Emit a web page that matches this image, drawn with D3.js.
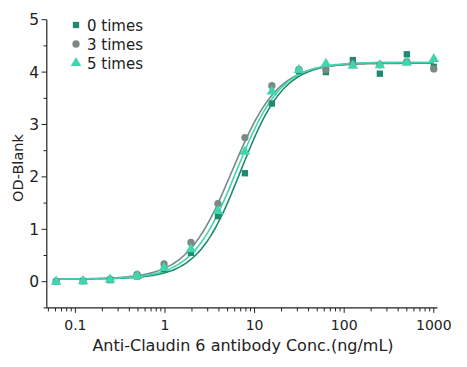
<!DOCTYPE html>
<html><head><meta charset="utf-8">
<script src="https://cdn.jsdelivr.net/npm/d3@7"></script>
<style>body{margin:0;background:#fff}svg text{font-family:"DejaVu Sans",sans-serif;fill:#222}</style>
</head><body><svg id="c" width="467" height="367"></svg>
<script>
const conc = [0.061,0.122,0.244,0.488,0.977,1.95,3.9,7.8,15.6,31.25,62.5,125,250,500,1000];
const seriesNames = ["0 times","3 times","5 times"];
const times0 = [0.0,0.01,0.03,0.1,0.24,0.55,1.25,2.07,3.40,4.02,4.00,4.23,3.97,4.34,4.10];
const times3 = [0.01,0.02,0.05,0.14,0.34,0.75,1.49,2.75,3.74,4.05,4.05,4.15,4.14,4.20,4.06];
const times5 = [0.0,0.01,0.04,0.11,0.26,0.62,1.35,2.48,3.63,4.04,4.16,4.12,4.13,4.18,4.25];
// 4PL fit parameters per series: bottom, top, EC50, hill
const fitBottom = [0.05,0.05,0.05];
const fitTop = [4.18,4.17,4.19];
const fitEC50 = [7.0,5.6,6.3];
const fitHill = [1.8,1.7,1.75];
const colors = ["#1f8a70","#7b8985","#3fd6ae"];
const yTicks = [0,1,2,3,4,5];
const xTickLabels = [0.1,1,10,100,1000];

const svg = d3.select("#c");
const x = d3.scaleLog().domain([0.048,1100]).range([46.8,437.5]);
const y = d3.scaleLinear().domain([-0.5,5]).range([307.9,19.7]);
const data = [times0,times3,times5];

// axes
const xAxis = svg.append("g").attr("transform","translate(0,307.9)");
xAxis.append("line").attr("x1",x.range()[0]).attr("x2",x.range()[1]).attr("stroke","#222").attr("stroke-width",1.2);
const minor = [];
for (let e=-2;e<=3;e++) for (let m=1;m<10;m++){const v=m*Math.pow(10,e); if(v>=x.domain()[0]&&v<=x.domain()[1]) minor.push(v);}
xAxis.selectAll(".xt").data(minor).join("line").attr("x1",d=>x(d)).attr("x2",d=>x(d)).attr("y1",0)
  .attr("y2",d=>xTickLabels.includes(d)?5:3.5).attr("stroke","#222").attr("stroke-width",1);
xAxis.selectAll(".xl").data(xTickLabels).join("text").attr("x",d=>x(d)).attr("y",22).attr("text-anchor","middle")
  .attr("font-size",14).text(d=>d);

const yAxis = svg.append("g");
yAxis.append("line").attr("x1",46.8).attr("x2",46.8).attr("y1",y(-0.5)).attr("y2",y(5)).attr("stroke","#222").attr("stroke-width",1.2);
const yMinor = d3.range(-0.5,5.01,0.5);
yAxis.selectAll(".yt").data(yMinor).join("line").attr("x1",d=>Number.isInteger(d)?41.5:43.5).attr("x2",46.8)
  .attr("y1",d=>y(d)).attr("y2",d=>y(d)).attr("stroke","#222").attr("stroke-width",1);
yAxis.selectAll(".yl").data(yTicks).join("text").attr("x",39).attr("y",d=>y(d)+5.5).attr("text-anchor","end")
  .attr("font-size",15.5).text(d=>d);

svg.append("text").attr("x",243).attr("y",351).attr("text-anchor","middle").attr("font-size",16).text("Anti-Claudin 6 antibody Conc.(ng/mL)");
svg.append("text").attr("transform","translate(23,168) rotate(-90)").attr("text-anchor","middle").attr("font-size",14.5).text("OD-Blank");

// curves
const fx = d3.range(0,201).map(i=>Math.pow(10, Math.log10(0.061) + i*(Math.log10(1000)-Math.log10(0.061))/200));
const line = d3.line().x(d=>x(d[0])).y(d=>y(d[1]));
[0,1,2].forEach(s=>{
  const pts = fx.map(c=>[c, fitBottom[s] + (fitTop[s]-fitBottom[s])/(1+Math.pow(fitEC50[s]/c, fitHill[s]))]);
  svg.append("path").attr("d",line(pts)).attr("fill","none").attr("stroke",colors[s]).attr("stroke-width",1.6);
});

// markers
const sym = [d3.symbolSquare, d3.symbolCircle, d3.symbolTriangle];
const sizes = [40, 42, 48];
[0,1,2].forEach(s=>{
  svg.append("g").selectAll("path").data(conc.map((c,i)=>[c,data[s][i]])).join("path")
    .attr("transform",d=>`translate(${x(d[0])},${y(d[1])})`)
    .attr("d",d3.symbol().type(sym[s]).size(sizes[s])).attr("fill",colors[s]);
});

// legend
const lg = svg.append("g");
seriesNames.forEach((n,i)=>{
  const yy = 25 + i*19;
  lg.append("path").attr("transform",`translate(76,${yy})`).attr("d",d3.symbol().type(sym[i]).size(sizes[i])).attr("fill",colors[i]);
  lg.append("text").attr("x",87).attr("y",yy+5.5).attr("font-size",15).text(n);
});
</script></body></html>
